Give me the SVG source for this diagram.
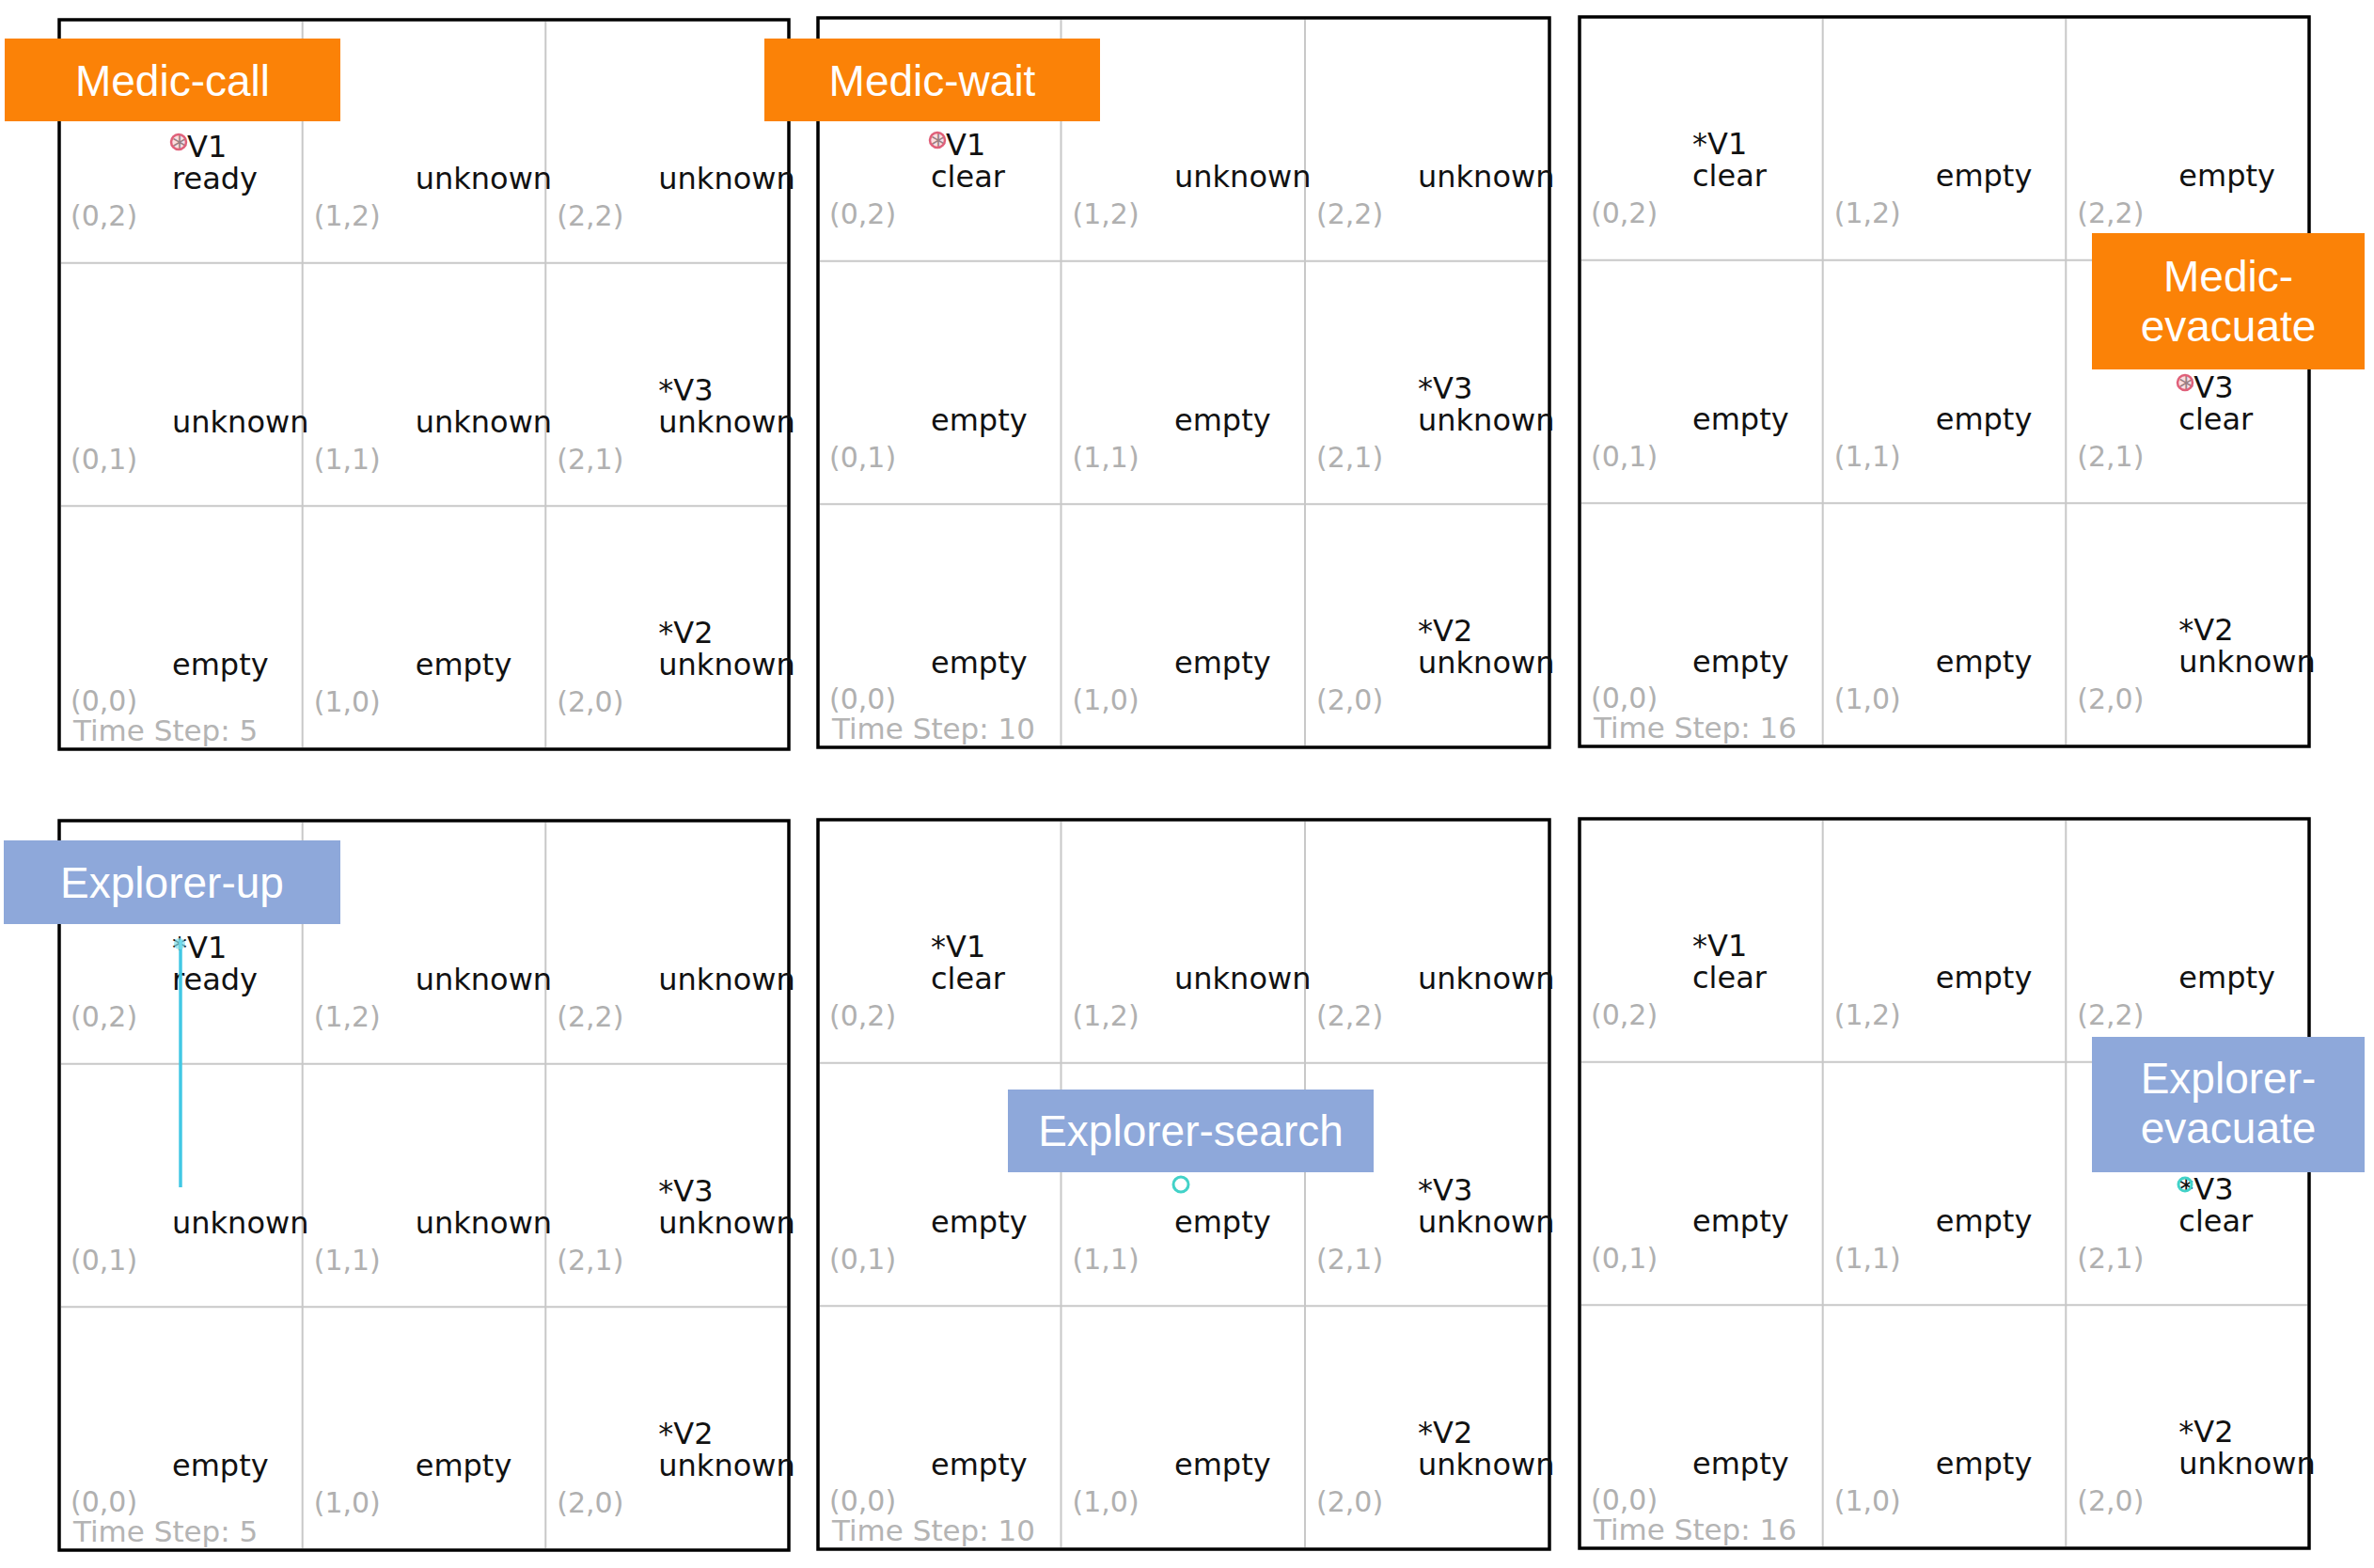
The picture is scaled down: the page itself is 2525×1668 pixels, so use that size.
<svg xmlns="http://www.w3.org/2000/svg" width="2525" height="1668" viewBox="0 0 2525 1668">
<style>
.frame{fill:none;stroke:#000;stroke-width:3.5}
.grid{stroke:#c8c8c8;stroke-width:2}
.t{font-family:"DejaVu Sans",sans-serif;font-size:32px;fill:#111}
.c{font-family:"DejaVu Sans",sans-serif;font-size:30px;fill:#b0b0b0}
.ts{font-family:"DejaVu Sans",sans-serif;font-size:31px;fill:#b4b4b4}
.med{fill:#fb8207}
.exp{fill:#8ea8da}
.lbl{font-family:"Liberation Sans",Arial,sans-serif;font-size:46px;fill:#fff;text-anchor:middle}
.redm{fill:#f7c9d0;fill-opacity:0.6;stroke:#e0607a;stroke-width:2.5}
.cyanm{fill:none;stroke:#42d2c8;stroke-width:3}
.traj{stroke:#42c8e4;stroke-width:3.5;fill:none}
</style>
<rect width="2525" height="1668" fill="#fff"/>

<!-- Panel 1: x0=63 y0=21 -->
<g id="panel1">
<rect class="frame" x="63" y="21" width="776" height="776"/>
<line class="grid" x1="321.7" y1="23" x2="321.7" y2="795"/>
<line class="grid" x1="580.3" y1="23" x2="580.3" y2="795"/>
<line class="grid" x1="65" y1="279.7" x2="837" y2="279.7"/>
<line class="grid" x1="65" y1="538.3" x2="837" y2="538.3"/>
<text class="t" x="183" y="167">*V1</text><text class="t" x="183" y="201">ready</text>
<text class="t" x="441.7" y="201">unknown</text>
<text class="t" x="700.3" y="201">unknown</text>
<text class="t" x="183" y="459.7">unknown</text>
<text class="t" x="441.7" y="459.7">unknown</text>
<text class="t" x="700.3" y="425.7">*V3</text><text class="t" x="700.3" y="459.7">unknown</text>
<text class="t" x="183" y="718.3">empty</text>
<text class="t" x="441.7" y="718.3">empty</text>
<text class="t" x="700.3" y="684.3">*V2</text><text class="t" x="700.3" y="718.3">unknown</text>
<text class="c" x="75" y="240">(0,2)</text><text class="c" x="333.7" y="240">(1,2)</text><text class="c" x="592.3" y="240">(2,2)</text>
<text class="c" x="75" y="498.7">(0,1)</text><text class="c" x="333.7" y="498.7">(1,1)</text><text class="c" x="592.3" y="498.7">(2,1)</text>
<text class="c" x="75" y="756">(0,0)</text><text class="c" x="333.7" y="757.3">(1,0)</text><text class="c" x="592.3" y="757.3">(2,0)</text>
<text class="ts" x="78" y="788">Time Step: 5</text>
<circle class="redm" cx="190" cy="151" r="8"/>
</g>

<!-- Panel 2: x0=870 y0=19 -->
<g id="panel2">
<rect class="frame" x="870" y="19" width="778" height="776"/>
<line class="grid" x1="1128.5" y1="21" x2="1128.5" y2="793"/>
<line class="grid" x1="1388" y1="21" x2="1388" y2="793"/>
<line class="grid" x1="872" y1="277.7" x2="1646" y2="277.7"/>
<line class="grid" x1="872" y1="536.3" x2="1646" y2="536.3"/>
<text class="t" x="990" y="165">*V1</text><text class="t" x="990" y="199">clear</text>
<text class="t" x="1249" y="199">unknown</text>
<text class="t" x="1508" y="199">unknown</text>
<text class="t" x="990" y="457.7">empty</text>
<text class="t" x="1249" y="457.7">empty</text>
<text class="t" x="1508" y="423.7">*V3</text><text class="t" x="1508" y="457.7">unknown</text>
<text class="t" x="990" y="716.3">empty</text>
<text class="t" x="1249" y="716.3">empty</text>
<text class="t" x="1508" y="682.3">*V2</text><text class="t" x="1508" y="716.3">unknown</text>
<text class="c" x="882" y="238">(0,2)</text><text class="c" x="1140.5" y="238">(1,2)</text><text class="c" x="1400" y="238">(2,2)</text>
<text class="c" x="882" y="496.7">(0,1)</text><text class="c" x="1140.5" y="496.7">(1,1)</text><text class="c" x="1400" y="496.7">(2,1)</text>
<text class="c" x="882" y="754">(0,0)</text><text class="c" x="1140.5" y="755.3">(1,0)</text><text class="c" x="1400" y="755.3">(2,0)</text>
<text class="ts" x="885" y="786">Time Step: 10</text>
<circle class="redm" cx="997" cy="149" r="8"/>
</g>

<!-- Panel 3: x0=1680 y0=18 -->
<g id="panel3">
<rect class="frame" x="1680" y="18" width="776" height="776"/>
<line class="grid" x1="1938.7" y1="20" x2="1938.7" y2="792"/>
<line class="grid" x1="2197.3" y1="20" x2="2197.3" y2="792"/>
<line class="grid" x1="1682" y1="276.7" x2="2454" y2="276.7"/>
<line class="grid" x1="1682" y1="535.3" x2="2454" y2="535.3"/>
<text class="t" x="1800" y="164">*V1</text><text class="t" x="1800" y="198">clear</text>
<text class="t" x="2058.7" y="198">empty</text>
<text class="t" x="2317.3" y="198">empty</text>
<text class="t" x="1800" y="456.7">empty</text>
<text class="t" x="2058.7" y="456.7">empty</text>
<text class="t" x="2317.3" y="422.7">*V3</text><text class="t" x="2317.3" y="456.7">clear</text>
<text class="t" x="1800" y="715.3">empty</text>
<text class="t" x="2058.7" y="715.3">empty</text>
<text class="t" x="2317.3" y="681.3">*V2</text><text class="t" x="2317.3" y="715.3">unknown</text>
<text class="c" x="1692" y="237">(0,2)</text><text class="c" x="1950.7" y="237">(1,2)</text><text class="c" x="2209.3" y="237">(2,2)</text>
<text class="c" x="1692" y="495.7">(0,1)</text><text class="c" x="1950.7" y="495.7">(1,1)</text><text class="c" x="2209.3" y="495.7">(2,1)</text>
<text class="c" x="1692" y="753">(0,0)</text><text class="c" x="1950.7" y="754.3">(1,0)</text><text class="c" x="2209.3" y="754.3">(2,0)</text>
<text class="ts" x="1695" y="785">Time Step: 16</text>
<circle class="redm" cx="2324" cy="407" r="8"/>
</g>

<!-- Panel 4: x0=63 y0=873 -->
<g id="panel4">
<rect class="frame" x="63" y="873" width="776" height="776"/>
<line class="grid" x1="321.7" y1="875" x2="321.7" y2="1647"/>
<line class="grid" x1="580.3" y1="875" x2="580.3" y2="1647"/>
<line class="grid" x1="65" y1="1131.7" x2="837" y2="1131.7"/>
<line class="grid" x1="65" y1="1390.3" x2="837" y2="1390.3"/>
<text class="t" x="183" y="1019">*V1</text><text class="t" x="183" y="1053">ready</text>
<text class="t" x="441.7" y="1053">unknown</text>
<text class="t" x="700.3" y="1053">unknown</text>
<text class="t" x="183" y="1311.7">unknown</text>
<text class="t" x="441.7" y="1311.7">unknown</text>
<text class="t" x="700.3" y="1277.7">*V3</text><text class="t" x="700.3" y="1311.7">unknown</text>
<text class="t" x="183" y="1570.3">empty</text>
<text class="t" x="441.7" y="1570.3">empty</text>
<text class="t" x="700.3" y="1536.3">*V2</text><text class="t" x="700.3" y="1570.3">unknown</text>
<text class="c" x="75" y="1092">(0,2)</text><text class="c" x="333.7" y="1092">(1,2)</text><text class="c" x="592.3" y="1092">(2,2)</text>
<text class="c" x="75" y="1350.7">(0,1)</text><text class="c" x="333.7" y="1350.7">(1,1)</text><text class="c" x="592.3" y="1350.7">(2,1)</text>
<text class="c" x="75" y="1608">(0,0)</text><text class="c" x="333.7" y="1609.3">(1,0)</text><text class="c" x="592.3" y="1609.3">(2,0)</text>
<text class="ts" x="78" y="1640">Time Step: 5</text>
</g>

<!-- Panel 5: x0=870 y0=872 -->
<g id="panel5">
<rect class="frame" x="870" y="872" width="778" height="776"/>
<line class="grid" x1="1128.5" y1="874" x2="1128.5" y2="1646"/>
<line class="grid" x1="1388" y1="874" x2="1388" y2="1646"/>
<line class="grid" x1="872" y1="1130.7" x2="1646" y2="1130.7"/>
<line class="grid" x1="872" y1="1389.3" x2="1646" y2="1389.3"/>
<text class="t" x="990" y="1018">*V1</text><text class="t" x="990" y="1052">clear</text>
<text class="t" x="1249" y="1052">unknown</text>
<text class="t" x="1508" y="1052">unknown</text>
<text class="t" x="990" y="1310.7">empty</text>
<text class="t" x="1249" y="1310.7">empty</text>
<text class="t" x="1508" y="1276.7">*V3</text><text class="t" x="1508" y="1310.7">unknown</text>
<text class="t" x="990" y="1569.3">empty</text>
<text class="t" x="1249" y="1569.3">empty</text>
<text class="t" x="1508" y="1535.3">*V2</text><text class="t" x="1508" y="1569.3">unknown</text>
<text class="c" x="882" y="1091">(0,2)</text><text class="c" x="1140.5" y="1091">(1,2)</text><text class="c" x="1400" y="1091">(2,2)</text>
<text class="c" x="882" y="1349.7">(0,1)</text><text class="c" x="1140.5" y="1349.7">(1,1)</text><text class="c" x="1400" y="1349.7">(2,1)</text>
<text class="c" x="882" y="1607">(0,0)</text><text class="c" x="1140.5" y="1608.3">(1,0)</text><text class="c" x="1400" y="1608.3">(2,0)</text>
<text class="ts" x="885" y="1639">Time Step: 10</text>
<circle class="cyanm" cx="1256" cy="1260" r="8"/>
</g>

<!-- Panel 6: x0=1680 y0=871 -->
<g id="panel6">
<rect class="frame" x="1680" y="871" width="776" height="776"/>
<line class="grid" x1="1938.7" y1="873" x2="1938.7" y2="1645"/>
<line class="grid" x1="2197.3" y1="873" x2="2197.3" y2="1645"/>
<line class="grid" x1="1682" y1="1129.7" x2="2454" y2="1129.7"/>
<line class="grid" x1="1682" y1="1388.3" x2="2454" y2="1388.3"/>
<text class="t" x="1800" y="1017">*V1</text><text class="t" x="1800" y="1051">clear</text>
<text class="t" x="2058.7" y="1051">empty</text>
<text class="t" x="2317.3" y="1051">empty</text>
<text class="t" x="1800" y="1309.7">empty</text>
<text class="t" x="2058.7" y="1309.7">empty</text>
<text class="t" x="2317.3" y="1275.7">*V3</text><text class="t" x="2317.3" y="1309.7">clear</text>
<text class="t" x="1800" y="1568.3">empty</text>
<text class="t" x="2058.7" y="1568.3">empty</text>
<text class="t" x="2317.3" y="1534.3">*V2</text><text class="t" x="2317.3" y="1568.3">unknown</text>
<text class="c" x="1692" y="1090">(0,2)</text><text class="c" x="1950.7" y="1090">(1,2)</text><text class="c" x="2209.3" y="1090">(2,2)</text>
<text class="c" x="1692" y="1606">(0,0)</text><text class="c" x="1950.7" y="1607.3">(1,0)</text><text class="c" x="2209.3" y="1607.3">(2,0)</text>
<text class="c" x="1692" y="1348.7">(0,1)</text><text class="c" x="1950.7" y="1348.7">(1,1)</text><text class="c" x="2209.3" y="1348.7">(2,1)</text>
<text class="ts" x="1695" y="1638">Time Step: 16</text>
<circle class="cyanm" cx="2324" cy="1260" r="7"/>
</g>

<g id="connectors">
<line class="traj" x1="192" y1="1000" x2="192" y2="1263"/>
<circle cx="191" cy="1004" r="6" fill="#7fe0ee" fill-opacity="0.7"/>
</g>

<g id="label-medic-call">
<rect class="med" x="5" y="41" width="357" height="88"/>
<text class="lbl" x="183.5" y="102">Medic-call</text>
</g>
<g id="label-medic-wait">
<rect class="med" x="813" y="41" width="357" height="88"/>
<text class="lbl" x="991.5" y="102">Medic-wait</text>
</g>
<g id="label-medic-evacuate">
<rect class="med" x="2225" y="248" width="290" height="145"/>
<text class="lbl" x="2370" y="310">Medic-</text>
<text class="lbl" x="2370" y="363">evacuate</text>
</g>
<g id="label-explorer-up">
<rect class="exp" x="4" y="894" width="358" height="89"/>
<text class="lbl" x="183" y="955">Explorer-up</text>
</g>
<g id="label-explorer-search">
<rect class="exp" x="1072" y="1159" width="389" height="88"/>
<text class="lbl" x="1266.5" y="1219">Explorer-search</text>
</g>
<g id="label-explorer-evacuate">
<rect class="exp" x="2225" y="1103" width="290" height="144"/>
<text class="lbl" x="2370" y="1163">Explorer-</text>
<text class="lbl" x="2370" y="1216">evacuate</text>
</g>
</svg>
